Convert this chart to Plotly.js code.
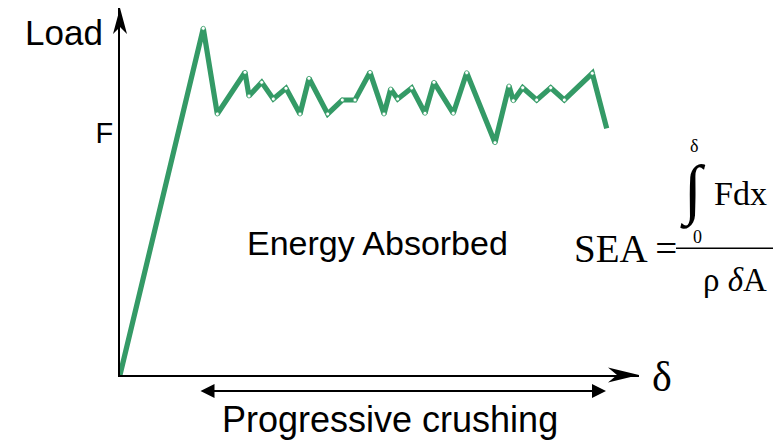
<!DOCTYPE html>
<html>
<head>
<meta charset="utf-8">
<script src="https://cdn.plot.ly/plotly-3.0.1.min.js"></script>
<style>
  html, body { margin: 0; padding: 0; background: #fff; }
  #chart { width: 783px; height: 441px; }
</style>
</head>
<body>
<div id="chart"></div>
<script>
// Crush displacement (delta) and load of the idealised force-displacement curve
const deflection = [0, 8.33, 9.73, 12.5, 12.9, 14.17, 15.33, 16.6, 18.0, 18.9, 20.77,
  22.23, 23.5, 25.0, 26.4, 27.07, 27.77, 29.17, 30.5, 31.4, 33.33,
  34.67, 37.5, 38.9, 39.33, 40.27, 41.67, 43.07, 44.43, 47.23, 48.67];
const load = [0, 34.67, 26.1, 30.27, 27.9, 29.27, 27.6, 28.67, 26.1, 29.67, 26.1,
  27.5, 27.5, 30.27, 26.1, 28.6, 27.6, 28.7, 26.17, 29.27, 26.17,
  30.23, 23.23, 28.9, 27.43, 28.73, 27.5, 28.73, 27.5, 30.17, 24.67];

// Mean crushing force level marked on the load axis
const forceLevel = 24.2;
const forceTickLabel = ['F'];

// Extent of the progressive crushing stage along delta
const crushStart = 7.9;
const crushEnd = 48.6;

const green = 'rgb(52,154,102)';

const traces = [
  {
    x: deflection,
    y: load,
    type: 'scatter',
    mode: 'lines',
    line: { color: green, width: 5.2, shape: 'linear' },
    cliponaxis: false,
    hoverinfo: 'skip'
  },
  {
    x: deflection.slice(1, -1),
    y: load.slice(1, -1),
    type: 'scatter',
    mode: 'markers',
    marker: { color: '#ffffff', size: 4, line: { color: green, width: 0.8 } },
    cliponaxis: false,
    hoverinfo: 'skip'
  }
];

const serif = 'Liberation Serif, Times New Roman, serif';
const sans = 'Liberation Sans, Arial, sans-serif';

// helper for free text placed in paper coordinates, centred on (x, y)
function label(text, x, y, family, size, extra) {
  return Object.assign({
    text: text, xref: 'paper', yref: 'paper', x: x, y: y,
    xanchor: 'center', yanchor: 'middle', showarrow: false,
    font: { family: family, size: size, color: '#000000' }
  }, extra || {});
}

const layout = {
  width: 783,
  height: 441,
  margin: { l: 120, r: 144, t: 8, b: 66 },
  paper_bgcolor: '#ffffff',
  plot_bgcolor: '#ffffff',
  showlegend: false,
  font: { family: sans, color: '#000000' },
  xaxis: {
    range: [0, 51.9],
    showline: true, linecolor: '#000000', linewidth: 2,
    showgrid: false, zeroline: false, showticklabels: false, ticks: ''
  },
  yaxis: {
    range: [0, 36.7],
    showline: true, linecolor: '#000000', linewidth: 2,
    showgrid: false, zeroline: false, ticks: '',
    tickvals: [forceLevel], ticktext: forceTickLabel,
    tickfont: { family: sans, size: 29, color: '#000000' },
    ticklabelstandoff: -1
  },
  shapes: [
    // arrowhead at the end of the delta axis
    {
      type: 'path', xref: 'paper', yref: 'paper',
      xsizemode: 'pixel', ysizemode: 'pixel', xanchor: 1, yanchor: 0,
      path: 'M0,0 L-31,7.5 L-22,0 L-31,-7.5 Z',
      fillcolor: '#000000', line: { width: 0 }
    },
    // arrowhead at the top of the load axis
    {
      type: 'path', xref: 'paper', yref: 'paper',
      xsizemode: 'pixel', ysizemode: 'pixel', xanchor: 0, yanchor: 1,
      path: 'M0,0 L-7,-26 L0,-19 L7,-26 Z',
      fillcolor: '#000000', line: { width: 0 }
    },
    // fraction bar of the SEA formula
    {
      type: 'line', xref: 'paper', yref: 'paper',
      x0: 1.0713, x1: 1.2582, y0: 0.3452, y1: 0.3452,
      line: { color: '#000000', width: 1.5 }
    }
  ],
  annotations: [
    label('Load', -0.1079, 0.9319, sans, 35),
    label('δ', 1.0443, -0.0054, serif, 42),
    label('Energy Absorbed', 0.4952, 0.3597, sans, 34),
    label('Progressive crushing', 0.5202, -0.1200, sans, 36),
    // double-headed arrow spanning the crushing stage
    { text: '', xref: 'x', yref: 'paper', x: crushEnd, y: -0.0436,
      axref: 'x', ayref: 'pixel', ax: crushStart, ay: 0,
      showarrow: true, arrowside: 'end+start', arrowhead: 2, startarrowhead: 2,
      arrowsize: 1.4, startarrowsize: 1.4, arrowwidth: 2, arrowcolor: '#000000' },
    // SEA formula
    label('SEA =', 0.8709, 0.3460, serif, 39, { xanchor: 'left' }),
    label('∫', 1.1040, 0.5014, serif, 66),
    label('δ', 1.1060, 0.6250, serif, 18),
    label('0', 1.1118, 0.3760, serif, 18),
    label('Fdx', 1.1407, 0.4959, serif, 34, { xanchor: 'left' }),
    label('ρ <i>δ</i>A', 1.1850, 0.2589, serif, 33)
  ]
};

Plotly.newPlot('chart', traces, layout, { displayModeBar: false, staticPlot: true });
</script>
</body>
</html>
